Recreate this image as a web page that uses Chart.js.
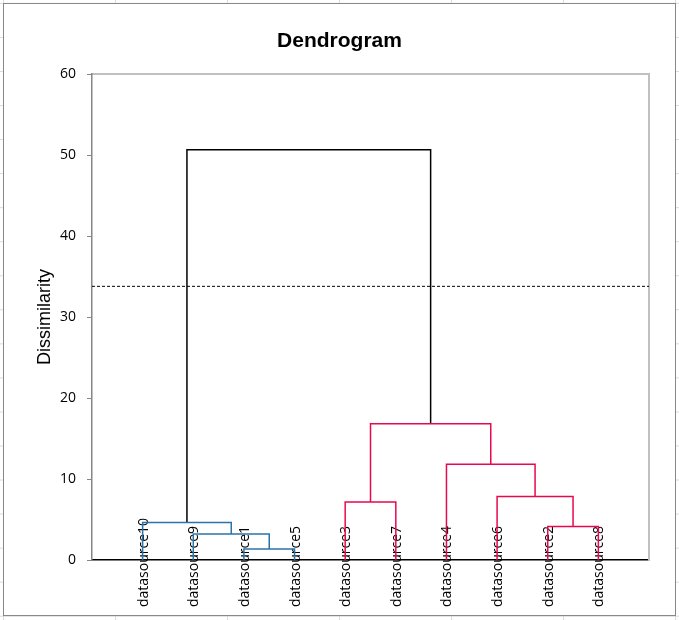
<!DOCTYPE html>
<html>
<head>
<meta charset="utf-8">
<script src="https://cdn.jsdelivr.net/npm/chart.js@4/dist/chart.umd.min.js"></script>
<style>
html, body { margin: 0; padding: 0; }
body {
    width: 679px; height: 620px; overflow: hidden; position: relative; background-color: #fff;
    background-image: linear-gradient(to right, #dadada 1px, transparent 1px),
                      linear-gradient(to bottom, #dadada 1px, transparent 1px);
    background-size: 112px 34.06px;
    background-position: 3px 2.9px;
}
#frame { position: absolute; left: 3px; top: 3px; width: 673px; height: 613px; box-sizing: border-box; border: 1px solid #888; background: #fff; }
#chart { position: absolute; left: 0; top: 0; }
</style>
</head>
<body>
<div id="frame"></div>
<canvas id="chart" width="679" height="620"></canvas>
<script>
// leaves in display order (positions 1..10 on the x scale)
const leafLabels = ['datasource10', 'datasource9', 'datasource1', 'datasource5', 'datasource3',
                    'datasource7', 'datasource4', 'datasource6', 'datasource2', 'datasource8'];

// merges: node ids 0..9 are leaves, merge k creates node 10 + k
const mergeLeft   = [2, 1, 0, 8, 4, 7, 6, 14, 12];
const mergeRight  = [3, 10, 11, 9, 5, 13, 15, 16, 17];
const mergeHeight = [1.36, 3.2, 4.64, 4.14, 7.15, 7.84, 11.84, 16.84, 50.68];

const cutHeight = 33.8;
const yTicks = [0, 10, 20, 30, 40, 50, 60];

const clusterColors = ['#2a74ab', '#e8084e'];

function buildDatasets() {
    const n = leafLabels.length;
    const nodeX = [], nodeH = [], parent = [];
    for (let i = 0; i < n; i++) { nodeX.push(i + 1); nodeH.push(0); }
    mergeHeight.forEach((h, k) => {
        const a = mergeLeft[k], b = mergeRight[k];
        nodeX.push((nodeX[a] + nodeX[b]) / 2);
        nodeH.push(h);
        parent[a] = n + k;
        parent[b] = n + k;
    });
    // cluster roots: merges below the cut whose parent is above it
    const clusterOf = {};
    let next = 0;
    const order = mergeHeight.map((h, k) => k).sort((p, q) => nodeX[n + p] - nodeX[n + q]);
    order.forEach(k => {
        const id = n + k;
        const p = parent[id];
        if (mergeHeight[k] < cutHeight && (p === undefined || nodeH[p] >= cutHeight)) {
            clusterOf[id] = next++;
        }
    });
    function colorFor(id) {
        let c = id;
        while (c !== undefined && clusterOf[c] === undefined) c = parent[c];
        if (c === undefined || nodeH[id] >= cutHeight) return '#000';
        return clusterColors[clusterOf[c] % clusterColors.length];
    }
    const sets = mergeHeight.map((h, k) => {
        const a = mergeLeft[k], b = mergeRight[k];
        return {
            data: [
                { x: nodeX[a], y: nodeH[a] },
                { x: nodeX[a], y: h },
                { x: nodeX[b], y: h },
                { x: nodeX[b], y: nodeH[b] }
            ],
            borderColor: colorFor(n + k),
            borderWidth: 1.5,
            pointRadius: 0,
            tension: 0,
            fill: false
        };
    });
    sets.push({
        data: [{ x: 0, y: cutHeight }, { x: n + 1, y: cutHeight }],
        borderColor: '#000',
        borderWidth: 1,
        borderDash: [3, 2],
        pointRadius: 0,
        fill: false
    });
    return sets;
}

const leafLabelPlugin = {
    id: 'leafLabels',
    beforeDatasetsDraw(chart) {
        const { ctx, scales } = chart;
        const y0 = scales.y.getPixelForValue(0);
        ctx.save();
        ctx.font = '14px "Open Sans"';
        ctx.fillStyle = '#000';
        ctx.textAlign = 'left';
        ctx.textBaseline = 'middle';
        leafLabels.forEach((lab, i) => {
            const px = scales.x.getPixelForValue(i + 1);
            ctx.save();
            ctx.translate(px + 1, y0 + 47);
            ctx.rotate(-Math.PI / 2);
            ctx.fillText(lab, 0, 0);
            ctx.restore();
        });
        ctx.restore();
    }
};

function draw() {
    const ctx = document.getElementById('chart').getContext('2d');
    new Chart(ctx, {
        type: 'line',
        data: { datasets: buildDatasets() },
        options: {
            responsive: false,
            animation: false,
            layout: { padding: 0 },
            scales: {
                x: {
                    type: 'linear', position: 'bottom', min: 0, max: leafLabels.length + 1,
                    ticks: { display: false },
                    grid: { display: false },
                    border: { color: '#000', width: 1.5 },
                    afterFit: s => { s.height = 60; }
                },
                xTop: {
                    type: 'linear', position: 'top', display: true,
                    ticks: { display: false },
                    grid: { display: false },
                    border: { color: '#c0c0c0', width: 2 },
                    afterFit: s => { s.height = 0; }
                },
                y: {
                    type: 'linear', position: 'left', min: 0, max: 60,
                    afterBuildTicks: s => { s.ticks = yTicks.map(v => ({ value: v })); },
                    ticks: { color: '#000', padding: 11, font: { family: 'Open Sans', size: 14 } },
                    grid: { drawOnChartArea: false, color: '#868686', tickLength: 5 },
                    border: { color: '#868686', width: 1.5 },
                    title: {
                        display: true, text: 'Dissimilarity', color: '#000',
                        font: { family: 'Liberation Sans', size: 18 },
                        padding: { top: 34, bottom: 0 }
                    },
                    afterFit: s => { s.width = 92; }
                },
                yRight: {
                    type: 'linear', position: 'right', display: true,
                    ticks: { display: false },
                    grid: { display: false },
                    border: { color: '#c0c0c0', width: 2 },
                    afterFit: s => { s.width = 30; }
                }
            },
            plugins: {
                legend: { display: false },
                tooltip: { enabled: false },
                title: {
                    display: true, text: 'Dendrogram', color: '#000',
                    font: { family: 'Liberation Sans', size: 21, weight: 'bold' },
                    padding: { top: 29, bottom: 20 }
                }
            }
        },
        plugins: [leafLabelPlugin]
    });
}

document.fonts.load('14px "Open Sans"').then(draw, draw);
</script>
</body>
</html>
